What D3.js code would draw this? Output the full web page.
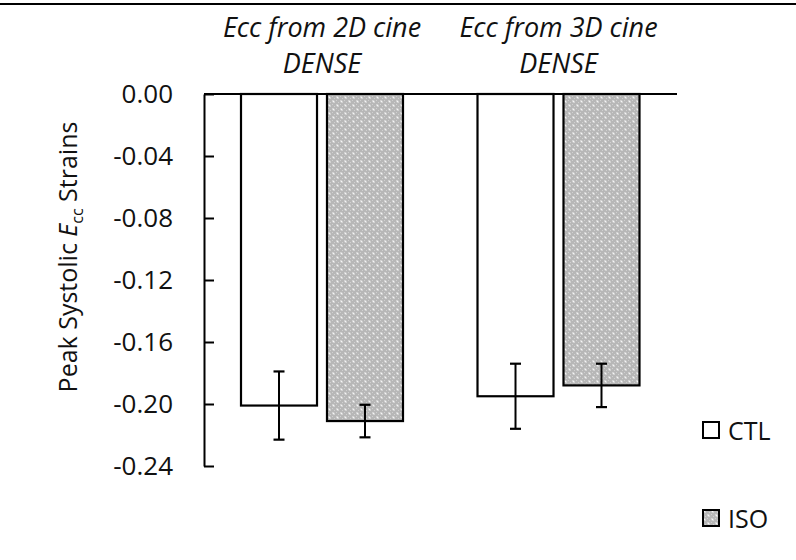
<!DOCTYPE html>
<html>
<head>
<meta charset="utf-8">
<script src="https://cdn.jsdelivr.net/npm/d3@7"></script>
<style>
  body { margin: 0; background: #fff; }
  svg { display: block; font-family: "Open Sans", sans-serif; }
</style>
</head>
<body>
<div id="chart"></div>
<script>
// data
const groupLines = [["Ecc from 2D cine", "DENSE"], ["Ecc from 3D cine", "DENSE"]];
const groups = ["2D", "3D"];
const series = ["CTL", "ISO"];
const ctlValues = [-0.201, -0.195];
const isoValues = [-0.211, -0.188];
const ctlErrors = [0.022, 0.021];
const isoErrors = [0.0105, 0.014];
const yTicks = [0, -0.04, -0.08, -0.12, -0.16, -0.20, -0.24];

const width = 796, height = 560;

const svg = d3.select("#chart").append("svg")
    .attr("width", width)
    .attr("height", height);

svg.append("rect").attr("width", width).attr("height", height).attr("fill", "#fff");

// dotted grey fill for ISO
const defs = svg.append("defs");
const pat = defs.append("pattern")
    .attr("id", "dots")
    .attr("patternUnits", "userSpaceOnUse")
    .attr("width", 8).attr("height", 8);
pat.append("rect").attr("width", 8).attr("height", 8).attr("fill", "#b7b7b7");
[[0, 0], [2, 2], [4, 0], [6, 2], [0, 4], [4, 4], [2, 6], [6, 6]].forEach(p => {
    pat.append("rect").attr("x", p[0]).attr("y", p[1]).attr("width", 1).attr("height", 1).attr("fill", "#d0d0d0");
});
pat.append("circle").attr("cx", 1.5).attr("cy", 1.5).attr("r", 1).attr("fill", "#f6f6f6");
pat.append("circle").attr("cx", 5.5).attr("cy", 5.5).attr("r", 1).attr("fill", "#f6f6f6");

const y = d3.scaleLinear().domain([-0.24, 0]).range([466, 94]);
const x0 = d3.scaleBand().domain(groups).range([204, 677]);
const x1 = d3.scaleBand().domain(series).range([37, 199]).paddingInner(0.116);

// top border line
svg.append("line")
    .attr("x1", 0).attr("x2", width)
    .attr("y1", 4).attr("y2", 4)
    .attr("stroke", "#000").attr("stroke-width", 2);

// y axis
const yAxis = d3.axisLeft(y)
    .tickValues(yTicks)
    .tickFormat(d3.format(".2f"))
    .tickSizeInner(-10)
    .tickSizeOuter(0)
    .tickPadding(31);

const gy = svg.append("g").attr("transform", "translate(204,0)").call(yAxis);
gy.selectAll("path, line").attr("stroke", "#000").attr("stroke-width", 2);
gy.selectAll("text")
    .attr("font-size", 26)
    .attr("fill", "#111")
    .attr("font-family", "Open Sans, sans-serif")
    .text(d => d === 0 ? "0.00" : "-" + Math.abs(d).toFixed(2));

// bars
const rows = groups.map((g, i) => [
    { group: g, key: "CTL", value: ctlValues[i], err: ctlErrors[i] },
    { group: g, key: "ISO", value: isoValues[i], err: isoErrors[i] }
]).flat();

svg.append("g").selectAll("rect")
    .data(rows)
    .join("rect")
    .attr("x", d => x0(d.group) + x1(d.key))
    .attr("y", y(0))
    .attr("width", x1.bandwidth())
    .attr("height", d => y(d.value) - y(0))
    .attr("fill", d => d.key === "CTL" ? "#fff" : "url(#dots)")
    .attr("stroke", "#000")
    .attr("stroke-width", 2.2);

// zero line
svg.append("line")
    .attr("x1", 204).attr("x2", 677)
    .attr("y1", y(0)).attr("y2", y(0))
    .attr("stroke", "#000").attr("stroke-width", 2);

// error bars
const eb = svg.append("g").selectAll("g")
    .data(rows)
    .join("g")
    .attr("transform", d => `translate(${x0(d.group) + x1(d.key) + x1.bandwidth() / 2},0)`);
eb.append("line")
    .attr("y1", d => y(d.value + d.err)).attr("y2", d => y(d.value - d.err))
    .attr("stroke", "#000").attr("stroke-width", 2);
eb.append("line")
    .attr("x1", -5.5).attr("x2", 5.5)
    .attr("y1", d => y(d.value + d.err)).attr("y2", d => y(d.value + d.err))
    .attr("stroke", "#000").attr("stroke-width", 2.2);
eb.append("line")
    .attr("x1", -5.5).attr("x2", 5.5)
    .attr("y1", d => y(d.value - d.err)).attr("y2", d => y(d.value - d.err))
    .attr("stroke", "#000").attr("stroke-width", 2.2);

// group titles
groups.forEach((g, i) => {
    const cx = x0(g) + x1.range()[0] + (x1.range()[1] - x1.range()[0]) / 2;
    groupLines[i].forEach((line, j) => {
        svg.append("text")
            .attr("x", cx)
            .attr("y", 37 + j * 36)
            .attr("text-anchor", "middle")
            .attr("font-size", 27)
            .attr("font-style", "italic")
            .attr("fill", "#111")
            .text(line);
    });
});

// y axis title
const yt = svg.append("text")
    .attr("transform", "translate(77,257) rotate(-90)")
    .attr("text-anchor", "middle")
    .attr("font-size", 25)
    .attr("fill", "#111");
yt.append("tspan").text("Peak Systolic ");
yt.append("tspan").attr("font-style", "italic").text("E");
yt.append("tspan").attr("font-size", 16).attr("dy", 6).text("cc");
yt.append("tspan").attr("dy", -6).text(" Strains");

// legend
const legend = svg.append("g").selectAll("g")
    .data(series)
    .join("g")
    .attr("transform", (d, i) => `translate(703,${422 + i * 88})`);
legend.append("rect")
    .attr("width", 16).attr("height", 16)
    .attr("fill", d => d === "CTL" ? "#fff" : "url(#dots)")
    .attr("stroke", "#000").attr("stroke-width", 2);
legend.append("text")
    .attr("x", 25).attr("y", 18)
    .attr("font-size", 25)
    .attr("fill", "#111")
    .text(d => d);
</script>
</body>
</html>
